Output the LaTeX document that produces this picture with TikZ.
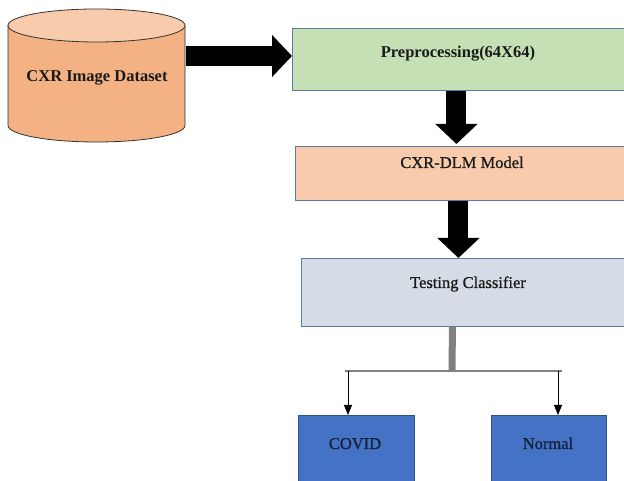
\documentclass[tikz,border=0pt]{standalone}
\usepackage{fontspec}
\setmainfont{Liberation Serif}
\newfontfamily\heavyserif[FakeBold=0.8]{Liberation Serif}
\usetikzlibrary{arrows.meta,calc}

\definecolor{dbbody}{HTML}{F4B183}
\definecolor{dbtop}{HTML}{F8CBAD}
\definecolor{greenbox}{HTML}{C5E0B4}
\definecolor{peachbox}{HTML}{F8CBAD}
\definecolor{greybox}{HTML}{D6DCE5}
\definecolor{bluebox}{HTML}{4472C4}
\definecolor{boxedge}{HTML}{5B7BA6}
\definecolor{blueedge}{HTML}{2F528F}
\definecolor{stem}{HTML}{808080}
\definecolor{ink}{HTML}{1A1A1A}
\definecolor{navyink}{HTML}{14213D}

\tikzset{
  stagebox/.style={draw=boxedge, line width=0.9pt, rectangle, anchor=north west, minimum height=#1},
  classbox/.style={draw=blueedge, line width=0.9pt, fill=bluebox, rectangle, anchor=north west,
                   minimum width=116pt, minimum height=80pt},
  caption/.style={anchor=base, inner sep=0pt, text=ink, font=\heavyserif\fontsize{16.5}{18}\selectfont},
  boldcaption/.style={caption, font=\fontsize{16.5}{18}\selectfont\bfseries},
  bigarrow/.style={line width=20pt, -{Triangle[width=41pt,length=20pt]}},
  thinarrow/.style={draw=black, line width=0.9pt, -{Triangle[width=8pt,length=10pt]}},
}

\begin{document}
\begin{tikzpicture}[x=1pt,y=1pt]
\useasboundingbox (0,0) rectangle (624,481);
\clip (0,0) rectangle (624,481);

% database cylinder
\filldraw[fill=dbbody, draw=black!80, line width=0.8pt]
  (8,455.5) -- (8,355.5) arc[start angle=180, end angle=360, x radius=88.5pt, y radius=16.5pt]
  -- (185,455.5) -- cycle;
\filldraw[fill=dbtop, draw=black!80, line width=0.8pt]
  (96.5,455.5) ellipse [x radius=88.5pt, y radius=16.5pt];
\node[boldcaption] (db) at (97,399) {CXR Image Dataset};
\coordinate (db-e) at (185.5,425);

% processing stages
\node[stagebox=62pt, fill=greenbox, minimum width=334pt] (pre) at (292,453) {};
\node[boldcaption] (pre-t) at (458,423.5) {Preprocessing(64X64)};

\node[stagebox=54pt, fill=peachbox, minimum width=334pt] (dlm) at (295,335) {};
\node[caption] (dlm-t) at (462,313) {CXR-DLM Model};

\node[stagebox=68pt, fill=greybox, minimum width=334pt] (test) at (301,223) {};
\node[caption] (test-t) at (468,193) {Testing Classifier};

% output classes
\node[classbox] (covid) at (298,66) {};
\node[caption, text=navyink] (covid-t) at (355,32) {COVID};
\node[classbox, minimum width=115pt] (normal) at (491,66) {};
\node[caption, text=navyink] (normal-t) at (548,32) {Normal};

% block arrows between stages
\draw[bigarrow] (db-e) -- (pre.west |- db-e);
\draw[bigarrow] ([xshift=-3pt]pre.south) -- ([xshift=-3pt,yshift=2pt]pre.south |- dlm.north);
\draw[bigarrow] ([xshift=-4pt]dlm.south) -- ([xshift=-4pt]dlm.south |- test.north);

% split towards the two classes
\coordinate (split) at (452,110);
\coordinate (split-l) at (345,110);
\coordinate (split-r) at (562,110);
\coordinate (branch-l) at (348,110);
\coordinate (branch-r) at (558,110);
\draw[stem, line width=7pt] ([xshift=-16pt]test.south) -- ([yshift=-1pt]split);
\draw[stem, line width=2pt] (split-l) -- (split-r);
\draw[thinarrow] (branch-l) -- (branch-l |- covid.north);
\draw[thinarrow] (branch-r) -- (branch-r |- normal.north);
\end{tikzpicture}
\end{document}
